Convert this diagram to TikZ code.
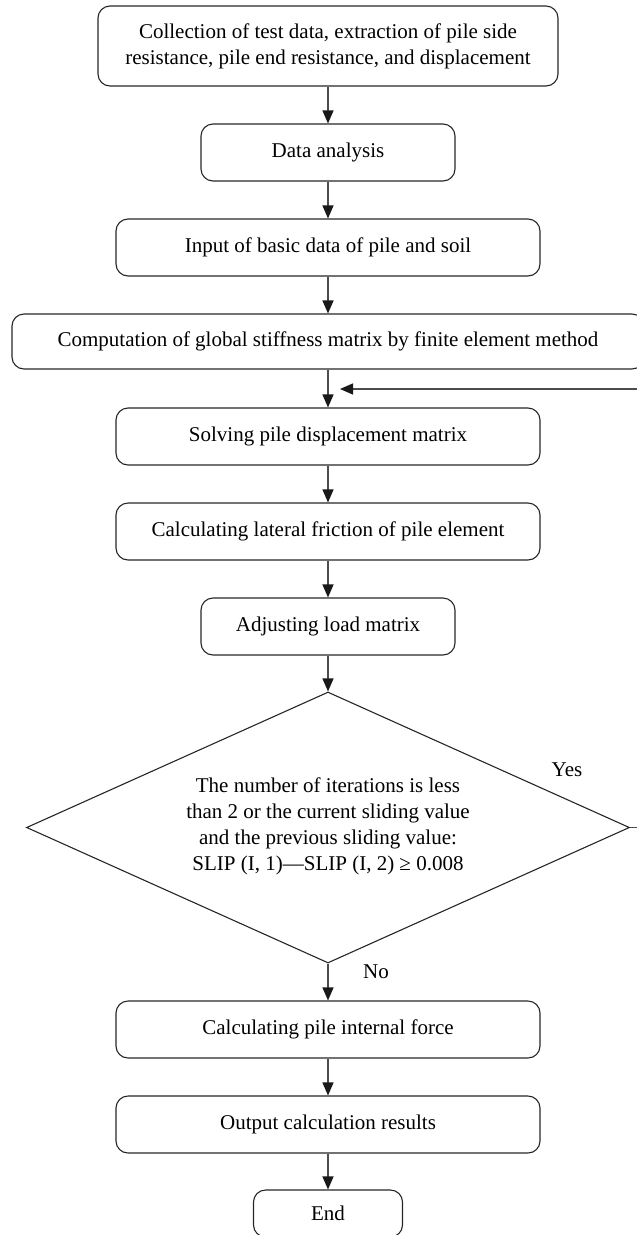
\documentclass[tikz,border=0pt]{standalone}
\usepackage{fontspec}
\setmainfont{Liberation Serif}
\usetikzlibrary{shapes.geometric,arrows.meta}
\tikzset{
  stepbox/.style={draw=black!85, line width=1.1pt, rounded corners=12pt, inner sep=0pt,
    align=center, font=\fontsize{21}{26}\selectfont},
  decidebox/.style={diamond, draw=black!85, line width=1.1pt, inner sep=0pt},
  flow/.style={draw=black!70, line width=1.3pt, -{Triangle[length=13pt,width=11pt,color=black!90]}},
  tag/.style={inner sep=0pt, font=\fontsize{21}{26}\selectfont}
}
\begin{document}
\begin{tikzpicture}[x=1pt,y=-1pt]
    \useasboundingbox (0,0) rectangle (637,1235);
    \clip (0,0) rectangle (637,1235);
    \def \cx {328}
    \node[stepbox, minimum width=460pt, minimum height=80pt] (collect) at (\cx,46)
        {Collection of test data, extraction of pile side\\resistance, pile end resistance, and displacement};
    \node[stepbox, minimum width=254pt, minimum height=57pt] (analysis) at (\cx,152.5) {Data analysis};
    \node[stepbox, minimum width=424pt, minimum height=57pt] (input) at (\cx,247.5) {Input of basic data of pile and soil};
    \node[stepbox, minimum width=632pt, minimum height=55pt] (stiff) at (\cx,341.5)
        {Computation of global stiffness matrix by finite element method};
    \node[stepbox, minimum width=424pt, minimum height=57pt] (solve) at (\cx,436.5) {Solving pile displacement matrix};
    \node[stepbox, minimum width=424pt, minimum height=57pt] (friction) at (\cx,531.5) {Calculating lateral friction of pile element};
    \node[stepbox, minimum width=254pt, minimum height=57pt] (load) at (\cx,626.5) {Adjusting load matrix};
    \node[decidebox, minimum width=603pt, minimum height=271pt] (decide) at (\cx,827.5) {};
    \node[stepbox, draw=none] (cond) at ([yshift=1pt]decide.center)
        {The number of iterations is less\\than 2 or the current sliding value\\and the previous sliding value:\\SLIP (I, 1)—SLIP (I, 2) ≥ 0.008};
    \node[stepbox, minimum width=424pt, minimum height=57pt] (force) at (\cx,1029.5) {Calculating pile internal force};
    \node[stepbox, minimum width=424pt, minimum height=57pt] (output) at (\cx,1124.5) {Output calculation results};
    \node[stepbox, minimum width=149pt, minimum height=47pt] (end) at (\cx,1213.5) {End};

    % main line
    \foreach \a/\b in {collect/analysis,analysis/input,input/stiff,stiff/solve,solve/friction,
        friction/load,load/decide,decide/force,force/output,output/end}
        \draw[flow] (\a.south) -- (\b.north);

    % loop back
    \coordinate (loopout) at (660,827.5);
    \coordinate (loopin) at (340,389);
    \draw[flow] (decide.east) -- (loopout) |- (loopin);
    \node[tag] (yes) at (567,770) {Yes};
    \node[tag, anchor=west] (no) at (363,972) {No};
\end{tikzpicture}
\end{document}
